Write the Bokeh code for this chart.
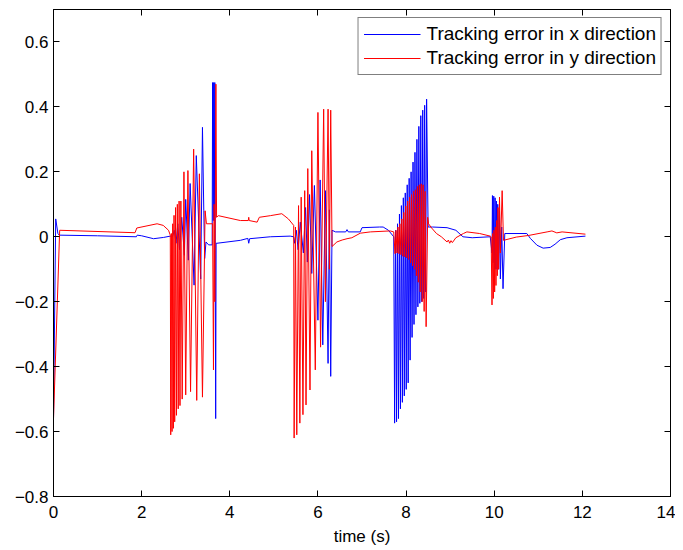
from bokeh.plotting import figure
from bokeh.models import Range1d, LinearAxis, FixedTicker, CustomJSTickFormatter
from bokeh.embed import file_html
from bokeh.resources import INLINE

x_ticks = [0, 2, 4, 6, 8, 10, 12, 14]
y_ticks = [-0.8, -0.6, -0.4, -0.2, 0, 0.2, 0.4, 0.6]
x_label = "time (s)"
series_names = ["Tracking error in x direction", "Tracking error in y direction"]

# Tracking error in x direction (blue)
ex_t = [0.00, 0.05, 0.10, 0.13, 1.00, 1.88, 1.90, 2.00, 2.27, 2.50, 2.65, 2.70,
        2.74, 2.78, 2.82, 2.86, 2.91, 2.97, 3.00, 3.06, 3.10, 3.19, 3.24, 3.34,
        3.38, 3.41, 3.43, 3.46, 3.52, 3.60, 3.61, 3.625, 3.635, 3.65, 3.66, 3.68,
        3.69, 3.71, 4.24, 4.41, 4.43, 4.45, 4.92, 5.37, 5.45, 5.47, 5.51, 5.55,
        5.60, 5.67, 5.72, 5.76, 5.81, 5.86, 5.92, 6.00, 6.05, 6.11, 6.17, 6.23,
        6.26, 6.29, 6.32, 6.40, 6.63, 6.66, 6.69, 6.96, 7.00, 7.40, 7.48, 7.60,
        7.72,
        7.740, 7.762, 7.784, 7.806, 7.828, 7.850, 7.872, 7.894, 7.916, 7.938,
        7.960, 7.982, 8.004, 8.026, 8.048, 8.070, 8.092, 8.114, 8.136, 8.158,
        8.180, 8.202, 8.224, 8.246, 8.268, 8.290, 8.312, 8.334, 8.356, 8.378,
        8.400, 8.422, 8.444, 8.466,
        8.50, 8.60, 8.93, 9.13, 9.29, 9.50, 9.91, 9.95, 9.96,
        9.975, 9.99, 10.005, 10.02, 10.035, 10.05, 10.065, 10.08, 10.10, 10.12,
        10.14, 10.17, 10.20, 10.24, 10.74, 10.82, 10.97, 11.11, 11.27, 11.38,
        11.50, 11.65, 12.07]
ex_v = [-0.56, 0.055, 0.01, 0.005, 0.003, 0.0, 0.005, 0.003, -0.006, -0.002, 0.002, 0.0,
        0.02, -0.02, 0.04, -0.04, 0.06, -0.057, 0.115, -0.072, 0.164, -0.149, 0.25, -0.13,
        0.337, 0.08, -0.067, -0.016, -0.025, -0.025, 0.475, 0.05, 0.475, 0.05, 0.475, -0.56,
        -0.02, -0.02, -0.011, -0.005, -0.02, -0.006, 0.0, 0.002, 0.0, -0.02, 0.02, -0.04,
        0.045, -0.05, 0.09, -0.078, 0.13, -0.113, 0.158, -0.257, 0.175, -0.333, 0.142, -0.39,
        0.083, -0.43, 0.02, 0.015, 0.015, 0.022, 0.015, 0.015, 0.028, 0.03, 0.03, 0.02,
        0.0,
        -0.574, 0.02, -0.57, 0.04, -0.56, 0.07, -0.53, 0.096, -0.51, 0.12,
        -0.49, 0.135, -0.47, 0.16, -0.45, 0.18, -0.38, 0.20, -0.31, 0.23,
        -0.27, 0.26, -0.24, 0.30, -0.216, 0.34, -0.205, 0.373, -0.2, 0.39,
        -0.19, 0.405, -0.17, 0.424,
        0.03, 0.03, 0.028, 0.02, 0.0, -0.003, 0.0, -0.05, 0.127,
        -0.08, 0.125, -0.1, 0.12, -0.1, 0.11, -0.1, 0.10, -0.1, 0.08,
        -0.13, 0.03, -0.16, 0.01, 0.01, -0.005, -0.026, -0.035, -0.033, -0.023,
        -0.009, -0.003, 0.002]

# Tracking error in y direction (red)
ey_t = [0.00, 0.14, 1.85, 1.89, 2.35, 2.49, 2.61, 2.65, 2.66, 2.675, 2.69, 2.705,
        2.72, 2.735, 2.75, 2.77, 2.79, 2.81, 2.83, 2.85, 2.87, 2.89, 2.92, 2.96,
        3.00, 3.05, 3.11, 3.18, 3.25, 3.31, 3.38, 3.44, 3.47, 3.61, 3.63, 3.645,
        3.66, 3.685, 3.70, 3.74, 4.24, 4.42, 4.43, 4.44, 4.62, 4.67, 4.92, 5.18,
        5.33, 5.45, 5.46, 5.49, 5.52, 5.56, 5.59, 5.62, 5.66, 5.70, 5.73, 5.77,
        5.82, 5.86, 5.94, 6.00, 6.06, 6.13, 6.17, 6.23, 6.26, 6.29, 6.32, 6.43,
        6.55, 6.66, 6.77, 6.96, 7.19, 7.64, 7.72,
        7.750, 7.772, 7.794, 7.816, 7.838, 7.860, 7.882, 7.904, 7.926, 7.948,
        7.970, 7.992, 8.014, 8.036, 8.058, 8.080, 8.102, 8.124, 8.146, 8.168,
        8.190, 8.212, 8.234, 8.256, 8.278, 8.300, 8.322, 8.344, 8.366, 8.388,
        8.410, 8.432, 8.455,
        8.49, 8.51, 8.58, 8.69,
        8.80, 8.93, 8.96, 8.99, 9.02, 9.05, 9.13, 9.30, 9.38, 9.67, 9.91, 9.93,
        9.95, 9.965, 9.98, 9.995, 10.01, 10.025, 10.04, 10.055, 10.07, 10.085, 10.10,
        10.12, 10.14, 10.18, 10.21, 10.50, 10.78, 11.20, 11.31, 11.42, 11.54, 12.07]
ey_v = [-0.56, 0.02, 0.0125, 0.027, 0.04, 0.035, 0.02, 0.005, -0.61, 0.01, -0.60, 0.04,
        -0.59, 0.066, -0.57, 0.09, -0.55, 0.10, -0.53, 0.11, -0.52, 0.11, -0.50, 0.20,
        -0.487, 0.204, -0.477, 0.27, -0.504, 0.194, -0.494, 0.08, 0.04, 0.04, -0.41, 0.1,
        -0.2, 0.47, 0.06, 0.065, 0.05, 0.05, 0.06, 0.05, 0.045, 0.06, 0.065, 0.071,
        0.055, 0.035, -0.62, 0.03, -0.61, 0.096, -0.574, 0.122, -0.548, 0.142, -0.518, 0.21,
        -0.472, 0.265, -0.41, 0.383, -0.34, 0.393, -0.2, 0.393, -0.1, 0.39, -0.03, -0.016,
        -0.01, -0.006, -0.003, 0.011, 0.015, 0.018, 0.015,
        -0.052, 0.02, -0.05, 0.03, -0.052, 0.04, -0.055, 0.055, -0.06, 0.075,
        -0.062, 0.095, -0.065, 0.11, -0.07, 0.122, -0.08, 0.13, -0.09, 0.14,
        -0.1, 0.145, -0.12, 0.155, -0.14, 0.16, -0.17, 0.163, -0.2, 0.16,
        -0.23, 0.14, -0.277,
        0.06, 0.04, 0.027, 0.01,
        0.0, -0.016, -0.01, -0.02, -0.012, -0.018, -0.003, 0.01, 0.015, 0.01, 0.002, 0.0,
        -0.21, 0.01, -0.19, 0.02, -0.17, 0.03, -0.15, 0.05, -0.12, 0.09, -0.1,
        0.122, -0.05, 0.142, -0.011, -0.001, 0.004, 0.015, 0.018, 0.012, 0.015, 0.008]

FONT = "Liberation Sans"

p = figure(frame_width=617, frame_height=487, output_backend="svg", toolbar_location=None,
           x_range=Range1d(0, 14), y_range=Range1d(-0.8, 0.7),
           min_border_left=53, min_border_right=5, min_border_top=9, min_border_bottom=40,
           background_fill_color="white", border_fill_color="white")
p.grid.visible = False
p.outline_line_color = "black"
p.outline_line_width = 1

p.line(ex_t, ex_v, line_color="#0000ff", line_width=1, legend_label=series_names[0])
p.line(ey_t, ey_v, line_color="#ff0000", line_width=1, legend_label=series_names[1])

yfmt = CustomJSTickFormatter(code="""
if (Math.abs(tick) < 1e-9) return '0';
var s = Math.abs(tick).toFixed(1);
return tick < 0 ? '\\u2212' + s : s;
""")

def style_axis(ax):
    ax.axis_line_color = "black"
    ax.major_tick_line_color = "black"
    ax.minor_tick_line_color = "black"
    ax.major_tick_in = 6
    ax.major_tick_out = 0
    ax.minor_tick_in = 0
    ax.minor_tick_out = 0
    ax.major_label_text_font = FONT
    ax.major_label_text_color = "black"
    ax.major_label_text_font_size = "17px"

p.xaxis.ticker = FixedTicker(ticks=x_ticks)
p.yaxis.ticker = FixedTicker(ticks=y_ticks)
p.yaxis.formatter = yfmt
style_axis(p.xaxis[0])
style_axis(p.yaxis[0])
p.xaxis.major_label_standoff = 9
p.yaxis.major_label_standoff = 5
p.xaxis.axis_label = x_label
p.xaxis.axis_label_text_font = FONT
p.xaxis.axis_label_text_font_size = "17px"
p.xaxis.axis_label_text_font_style = "normal"
p.xaxis.axis_label_text_color = "black"
p.xaxis.axis_label_standoff = 6

# box ticks on top and right (drawn as label-free minor ticks)
top = LinearAxis(ticker=FixedTicker(ticks=[], minor_ticks=x_ticks))
style_axis(top)
top.minor_tick_in = 6
p.add_layout(top, "above")
right = LinearAxis(ticker=FixedTicker(ticks=[], minor_ticks=y_ticks))
style_axis(right)
right.minor_tick_in = 6
p.add_layout(right, "right")

lg = p.legend[0]
lg.location = "top_right"
lg.margin = 8
lg.padding = 5
lg.spacing = 2
lg.glyph_width = 57
lg.glyph_height = 20
lg.label_height = 20
lg.label_standoff = 6
lg.label_text_font = FONT
lg.label_text_font_size = "19px"
lg.label_text_color = "black"
lg.border_line_color = "black"
lg.border_line_width = 1
lg.background_fill_color = "white"
lg.background_fill_alpha = 1.0

open("out.html", "w").write(file_html(p, INLINE))
